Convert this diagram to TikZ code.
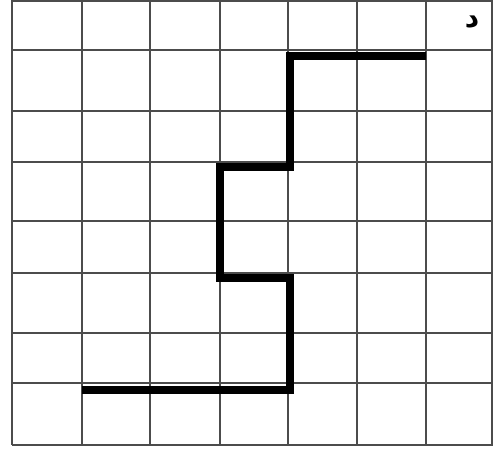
\documentclass[tikz,border=0pt]{standalone}
\usepackage{fontspec}
\newfontfamily\arabicfont[Script=Arabic]{DejaVu Sans}
\TeXXeTstate=1
\tikzset{
  gridline/.style={draw=black!70, line width=1.1pt},
  thickpath/.style={draw=black, line width=8pt, line join=miter, line cap=butt},
  letter/.style={font=\arabicfont\bfseries\fontsize{28}{30}\selectfont, inner sep=0pt}
}
\begin{document}
\begin{tikzpicture}[x=1pt,y=-1pt]
\useasboundingbox (0,0) rectangle (493,450);
\fill[white] (0,0) rectangle (493,450);
\foreach \xx in {12,82,150,220,288,357,426,492}
  \draw[gridline] (\xx,0) -- (\xx,445);
\foreach \yy in {1,50,111,162,221,273,333,383,445}
  \draw[gridline] (12,\yy) -- (493,\yy);
\coordinate (p1) at (82,390);
\coordinate (p2) at (290,390);
\coordinate (p3) at (290,278);
\coordinate (p4) at (220,278);
\coordinate (p5) at (220,167);
\coordinate (p6) at (290,167);
\coordinate (p7) at (290,56);
\coordinate (p8) at (426,56);
\draw[thickpath] (p1) -- (p2) -- (p3) -- (p4) -- (p5) -- (p6) -- (p7) -- (p8);
\node[letter] (dal) at (472,22) {\beginR د\endR};
\end{tikzpicture}
\end{document}
